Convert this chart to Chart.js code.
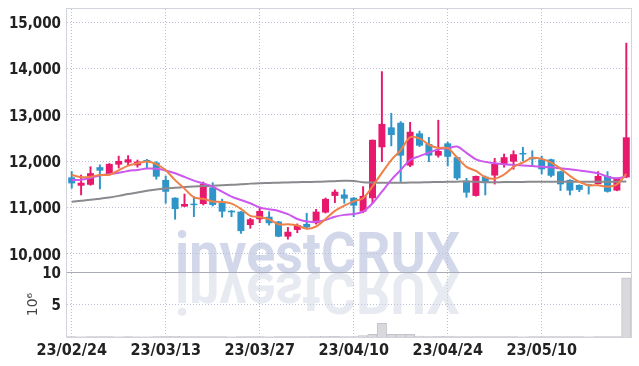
<!DOCTYPE html>
<html><head><meta charset="utf-8">
<script src="https://cdn.jsdelivr.net/npm/chart.js@4.4.1/dist/chart.umd.min.js"></script>
<style>html,body{margin:0;padding:0;background:#fff;}#wrap{width:639px;height:366px;}</style>
</head><body><div id="wrap"><canvas id="c" width="639" height="366"></canvas></div>
<script>
const dates = ['23/02/24','23/02/27','23/02/28','23/03/02','23/03/03','23/03/06','23/03/07','23/03/08','23/03/09','23/03/10',
'23/03/13','23/03/14','23/03/15','23/03/16','23/03/17','23/03/20','23/03/21','23/03/22','23/03/23','23/03/24',
'23/03/27','23/03/28','23/03/29','23/03/30','23/03/31','23/04/03','23/04/04','23/04/05','23/04/06','23/04/07',
'23/04/10','23/04/11','23/04/12','23/04/13','23/04/14','23/04/17','23/04/18','23/04/19','23/04/20','23/04/21',
'23/04/24','23/04/25','23/04/26','23/04/27','23/04/28','23/05/02','23/05/03','23/05/04','23/05/08','23/05/09',
'23/05/10','23/05/11','23/05/12','23/05/15','23/05/16','23/05/17','23/05/18','23/05/19','23/05/22','23/05/23'];
const openP = [11650,11470,11490,11870,11720,11925,11970,11910,12025,11970,
11595,11210,11020,11060,11075,11435,11105,10930,10910,10620,
10745,10800,10695,10370,10515,10645,10660,10890,11250,11280,
11210,10910,11200,12300,12730,12830,11905,12600,12370,12120,
12385,12085,11580,11250,11665,11690,11940,11990,12155,12085,
12040,12040,11780,11595,11485,11500,11505,11680,11365,11650];
const highP = [11775,11700,11880,11920,11950,12110,12120,12025,12040,11990,
11680,11210,11290,11235,11550,11535,11180,10935,10915,10765,
11005,10910,10700,10570,10645,10875,10960,11205,11380,11390,
11215,11450,12460,13935,13035,12855,12840,12650,12515,12885,
12410,12090,11630,11680,11680,12060,12155,12225,12300,12225,
12110,12045,11785,11600,11490,11505,11775,11775,11635,14550];
const lowP = [11415,11270,11480,11400,11700,11850,11900,11870,11850,11610,
11090,10745,11015,10800,11055,11030,10790,10800,10440,10550,
10670,10620,10365,10315,10455,10540,10640,10880,11105,11090,
10800,10885,11090,11990,12330,11560,11880,12315,11990,12085,
11895,11600,11220,11245,11270,11505,11870,11825,12010,11895,
11725,11660,11365,11270,11340,11290,11505,11330,11360,11640];
const closeP = [11520,11535,11740,11795,11940,12005,12040,11990,11990,11665,
11340,10965,11075,11050,11505,11055,10910,10895,10490,10745,
10925,10660,10370,10475,10620,10570,10910,11185,11340,11190,
11040,11250,12460,12805,12565,12120,12635,12335,12120,12220,
12095,11630,11320,11680,11535,11940,12085,12150,12145,12040,
11825,11685,11500,11365,11380,11470,11680,11340,11630,12515];
const ma5 = [11700,11655,11665,11700,11706,11803,11904,11954,11993,11938,
11805,11590,11407,11219,11187,11130,11119,11083,10971,10819,
10793,10743,10638,10635,10610,10539,10589,10752,10925,11038,
11132,11200,11455,11748,12024,12240,12517,12492,12355,12286,
12281,12080,11877,11789,11652,11621,11712,11878,11971,12072,
12049,11969,11839,11683,11551,11480,11479,11447,11500,11727];
const ma20 = [11594,11600,11640,11690,11720,11750,11790,11810,11840,11835,
11800,11740,11660,11580,11520,11450,11340,11235,11160,11090,
11000,10960,10925,10855,10750,10695,10690,10730,10800,10840,
10860,10910,11090,11340,11595,11810,12025,12110,12185,12255,
12280,12315,12180,12040,11985,11955,11935,11920,11905,11895,
11880,11868,11845,11825,11800,11773,11738,11665,11630,11665];
const ma60 = [11125,11145,11165,11190,11215,11250,11290,11325,11360,11390,
11410,11425,11440,11452,11462,11470,11480,11490,11500,11515,
11525,11530,11535,11540,11545,11550,11555,11560,11568,11575,
11572,11545,11538,11535,11535,11535,11538,11540,11545,11550,
11555,11558,11560,11555,11545,11545,11548,11550,11552,11555,
11557,11557,11557,11557,11557,11557,11557,11555,11557,11560];
const volume = [0.05,0.04,0.06,0.05,0.05,0.04,0.05,0.04,0.04,0.08,
0.12,0.1,0.06,0.05,0.07,0.06,0.05,0.04,0.08,0.05,
0.05,0.04,0.06,0.05,0.05,0.08,0.1,0.12,0.09,0.07,
0.08,0.2,0.42,2.1,0.42,0.42,0.42,0.15,0.08,0.1,
0.15,0.06,0.08,0.07,0.05,0.08,0.06,0.05,0.04,0.05,
0.06,0.05,0.05,0.06,0.05,0.04,0.05,0.07,0.06,9.1];
const priceTicks = [10000,11000,12000,13000,14000,15000];
const volTicks = [5,10];

const UP = '#e8186c', DOWN = '#2f95c9';
const candleColors = openP.map((o,i)=> closeP[i] >= o ? UP : DOWN);
const bodies = openP.map((o,i)=>[o, closeP[i]]);
const wicks = lowP.map((l,i)=>[l, highP[i]]);

const FAM = "'Liberation Sans Narrow','DejaVu Sans Condensed',sans-serif";
const yFont = {family:FAM, size:15, weight:'bold'};
const xFont = {family:FAM, size:16, weight:'bold'};
const gridColor = '#b9c0d8';

const decor = {
  id:'decor',
  beforeDatasetsDraw(chart){
    const ctx = chart.ctx;
    ctx.save();
    ctx.font = 'bold 58px Roboto';
    const w = ctx.measureText('investCRUX').width;
    const sx = 285 / w;
    const base = 273;
    ctx.save();
    ctx.translate(175, base);
    ctx.scale(sx, 1);
    ctx.fillStyle = 'rgba(180,190,220,0.6)';
    ctx.fillText('investCRUX', 0, 0);
    ctx.restore();
    ctx.save();
    ctx.translate(175, base);
    ctx.scale(sx, -1);
    ctx.fillStyle = 'rgba(205,208,225,0.45)';
    ctx.fillText('investCRUX', 0, 0);
    ctx.restore();
    ctx.restore();
  },
  afterDatasetsDraw(chart){
    const {ctx, chartArea:a} = chart;
    ctx.save();
    ctx.strokeStyle = '#d2d4dc';
    ctx.lineWidth = 1;
    ctx.strokeRect(Math.round(a.left)-0.5, Math.round(a.top)-0.5, Math.round(a.right-a.left)+1, Math.round(a.bottom-a.top)+1);
    const yv = chart.scales.yv;
    ctx.strokeStyle = '#a8abb8';
    ctx.beginPath();
    ctx.moveTo(a.left, Math.round(yv.top)+0.5);
    ctx.lineTo(a.right, Math.round(yv.top)+0.5);
    ctx.stroke();
    ctx.restore();
  }
};

function fitY(s){ s.width = 67; s.paddingTop = 0; s.paddingBottom = 0; }

new Chart(document.getElementById('c'), {
  data: {
    labels: dates,
    datasets: [
      {type:'line', label:'MA5', data:ma5, yAxisID:'y', borderColor:'#ef8148', borderWidth:2, pointRadius:0, tension:0.3, order:0},
      {type:'line', label:'MA20', data:ma20, yAxisID:'y', borderColor:'#cc58ee', borderWidth:2, pointRadius:0, tension:0.3, order:0},
      {type:'line', label:'MA60', data:ma60, yAxisID:'y', borderColor:'#8a8a8e', borderWidth:2, pointRadius:0, tension:0.3, order:0},
      {type:'bar', label:'body', data:bodies, yAxisID:'y', backgroundColor:candleColors, borderWidth:0, barPercentage:0.74, categoryPercentage:1, grouped:false, minBarLength:1.5, order:1},
      {type:'bar', label:'wick', data:wicks, yAxisID:'y', backgroundColor:candleColors, borderWidth:0, barThickness:1.3, grouped:false, order:2},
      {type:'bar', label:'volume', data:volume, yAxisID:'yv', backgroundColor:'#d8d8dd', borderColor:'#c3c3c9', borderWidth:1, barPercentage:1, categoryPercentage:1, grouped:false, order:3}
    ]
  },
  options: {
    responsive:false, animation:false, devicePixelRatio:1,
    layout:{padding:{top:9, right:8, left:0, bottom:0}},
    plugins:{legend:{display:false}, tooltip:{enabled:false}},
    scales: {
      x: {
        type:'category', offset:true,
        grid:{offset:false, color:gridColor, drawTicks:false},
        border:{display:false, dash:[1,2]},
        ticks:{autoSkip:false, maxRotation:0, padding:4, font:xFont, color:'#222',
          callback(v){ return this.getLabelForValue(v); }},
        afterBuildTicks(s){ s.ticks = s.ticks.filter(t => t.value % 10 === 0); },
        afterFit(s){ s.height = 29; s.paddingLeft = 0; s.paddingRight = 0; }
      },
      yv: {
        type:'linear', position:'left', stack:'p', stackWeight:65,
        min:0, max:10,
        afterBuildTicks(s){ s.ticks = volTicks.map(v=>({value:v})); },
        grid:{color:gridColor, drawTicks:false},
        border:{display:false, dash:[1,2]},
        title:{display:true, text:'10⁶', color:'#444', font:{family:'DejaVu Sans', size:14}, padding:{top:25,bottom:0}},
        ticks:{padding:6, labelOffset:2, font:yFont, color:'#222'},
        afterFit: fitY
      },
      y: {
        type:'linear', position:'left', stack:'p', stackWeight:263,
        min:9606, max:15287,
        afterBuildTicks(s){ s.ticks = priceTicks.map(v=>({value:v})); },
        grid:{color:gridColor, drawTicks:false},
        border:{display:false, dash:[1,2]},
        ticks:{padding:6, labelOffset:2, font:yFont, color:'#222', callback:v=>v.toLocaleString('en-US')},
        afterFit: fitY
      }
    }
  },
  plugins:[decor]
});
</script></body></html>
